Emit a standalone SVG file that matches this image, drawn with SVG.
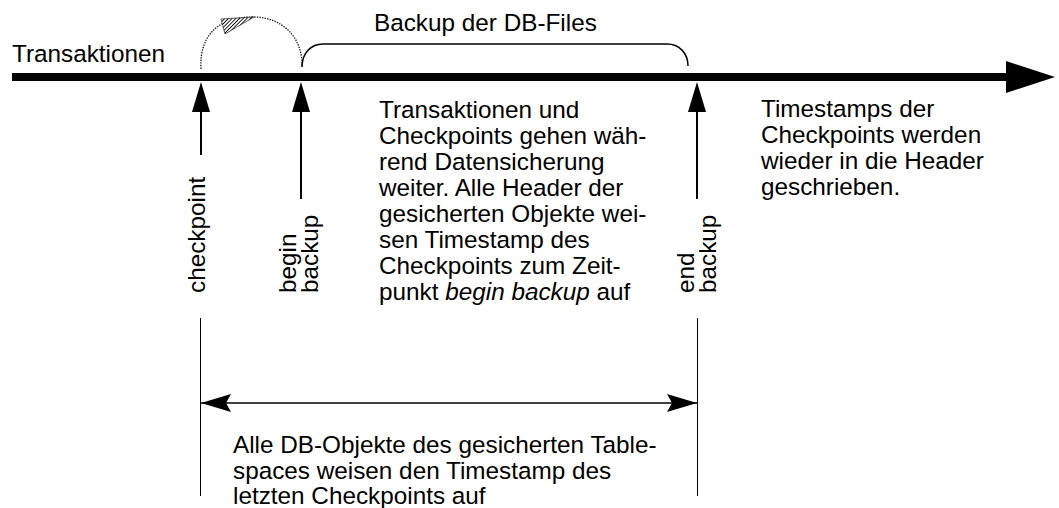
<svg xmlns="http://www.w3.org/2000/svg" width="1059" height="508" viewBox="0 0 1059 508">
<style>
text{font-family:"Liberation Sans",Arial,Helvetica,sans-serif;font-size:24.3px;fill:#000}
.ln{stroke:#000;fill:none}
</style>
<defs>
<pattern id="hatch" patternUnits="userSpaceOnUse" width="2.6" height="2.6" patternTransform="rotate(45)">
<rect width="2.6" height="2.6" fill="#fff"/>
<line x1="0" y1="0" x2="0" y2="2.6" stroke="#000" stroke-width="1.7"/>
</pattern>
<marker id="barb" viewBox="0 0 30 20" refX="30" refY="10" markerWidth="30" markerHeight="20" markerUnits="userSpaceOnUse" orient="auto-start-reverse">
<path d="M0,1 L30,10 L0,19 L5,10 Z" fill="#000"/>
</marker>
</defs>
<rect width="1059" height="508" fill="#fff"/>

<g id="timeline">
<rect x="12" y="73" width="996" height="8" fill="#000"/>
<polygon points="1006,61 1055,77 1006,93" fill="#000"/>
<text x="12" y="62">Transaktionen</text>
</g>

<g id="backup-brace">
<path class="ln" stroke-width="1.5" d="M302,67 C302,53 311,44 323,44 L667,44 C679,44 688,53 688,66"/>
<text x="374" y="31">Backup der DB-Files</text>
</g>

<g id="checkpoint-loop">
<path d="M201,69 C199,32 222,17 253,17 C281,17 303,36 302,67" fill="none" stroke="#111" stroke-width="1.3" stroke-dasharray="1.4 1.2"/>
<polygon points="221,19 254,17 225,34" fill="url(#hatch)" stroke="#222" stroke-width="0.7"/>
</g>

<g id="checkpoint">
<polygon points="201,82 192,112 210,112" fill="#000"/>
<line class="ln" stroke-width="2" x1="201" y1="110" x2="201" y2="155"/>
<text transform="translate(205,293) rotate(-90)">checkpoint</text>
</g>

<g id="begin-backup">
<polygon points="301,82 292,112 310,112" fill="#000"/>
<line class="ln" stroke-width="2" x1="301" y1="110" x2="301" y2="199"/>
<text transform="translate(296,293) rotate(-90)">begin</text>
<text transform="translate(318,293) rotate(-90)">backup</text>
</g>

<g id="end-backup">
<polygon points="697,82 688,112 706,112" fill="#000"/>
<line class="ln" stroke-width="2" x1="697" y1="110" x2="697" y2="199"/>
<text transform="translate(694,293) rotate(-90)">end</text>
<text transform="translate(716,293) rotate(-90)">backup</text>
</g>

<g id="middle-text">
<text x="379" y="118">Transaktionen und</text>
<text x="379" y="144">Checkpoints gehen wäh-</text>
<text x="379" y="170">rend Datensicherung</text>
<text x="379" y="196">weiter. Alle Header der</text>
<text x="379" y="222">gesicherten Objekte wei-</text>
<text x="379" y="248">sen Timestamp des</text>
<text x="379" y="274">Checkpoints zum Zeit-</text>
<text x="379" y="300">punkt <tspan font-style="italic">begin backup</tspan> auf</text>
</g>

<g id="right-text">
<text x="761" y="117">Timestamps der</text>
<text x="761" y="143">Checkpoints werden</text>
<text x="761" y="169">wieder in die Header</text>
<text x="761" y="195">geschrieben.</text>
</g>

<g id="connectors">
<line class="ln" stroke-width="1" x1="200.5" y1="318" x2="200.5" y2="496"/>
<line class="ln" stroke-width="1" x1="697.5" y1="318" x2="697.5" y2="496"/>
<line class="ln" stroke-width="1.5" x1="201" y1="403" x2="697" y2="403" marker-start="url(#barb)" marker-end="url(#barb)"/>
</g>

<g id="bottom-text">
<text x="233" y="453">Alle DB-Objekte des gesicherten Table-</text>
<text x="233" y="478.5">spaces weisen den Timestamp des</text>
<text x="233" y="504">letzten Checkpoints auf</text>
</g>
</svg>
